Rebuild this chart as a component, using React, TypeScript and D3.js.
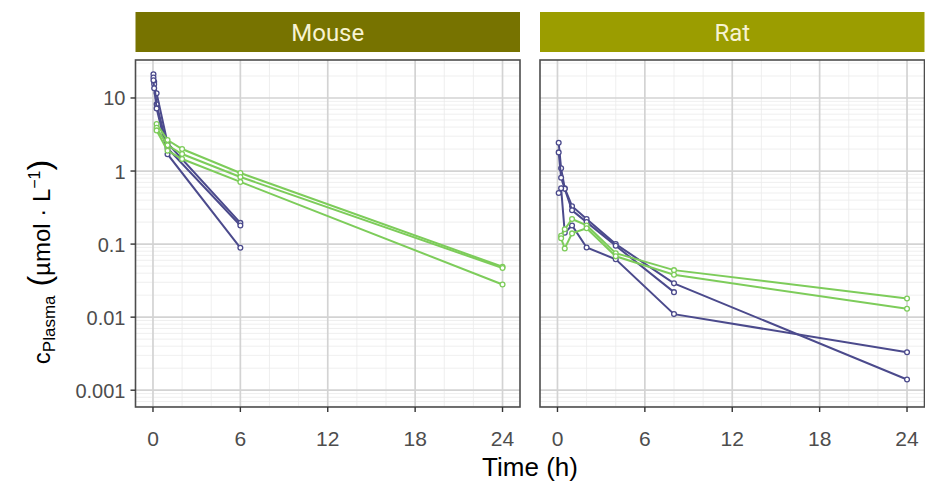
import React from 'react'
import * as d3 from 'd3'

// facets
const panels = ['Mouse', 'Rat']
const stripColors = ['#777300', '#9b9d00']

// mouse, iv (purple)
const mouseIvTime = [0.033, 0.083, 0.25, 1, 6]
const mouseIv1 = [21.1, 16.7, 11.6, 2.4, 0.195]
const mouseIv2 = [19.0, 15.4, 8.2, 2.05, 0.18]
const mouseIv3 = [17.5, 13.6, 7.2, 1.7, 0.089]

// mouse, po (green)
const mousePoTime = [0.25, 1, 2, 6, 24]
const mousePo1 = [4.4, 2.65, 2.0, 0.94, 0.049]
const mousePo2 = [3.9, 2.25, 1.71, 0.83, 0.047]
const mousePo3 = [3.6, 1.9, 1.46, 0.71, 0.028]

// rat, iv (purple)
const ratIvTime = [0.083, 0.25, 0.5, 1, 2, 4, 8, 24]
const ratIv1 = [2.44, 1.09, 0.58, 0.33, 0.22, 0.1, 0.029, 0.0014]
const ratIv2 = [1.8, 0.81, 0.57, 0.29, 0.2, 0.095, 0.022, null]
const ratIv3 = [0.5, 0.58, 0.143, 0.18, 0.09, 0.062, 0.011, 0.0033]

// rat, po (green)
const ratPoTime = [0.25, 0.5, 1, 2, 4, 8, 24]
const ratPo1 = [0.13, 0.16, 0.22, 0.18, 0.075, 0.044, 0.018]
const ratPo2 = [0.12, 0.087, 0.14, 0.165, 0.068, 0.038, 0.013]

const xTicks = [0, 6, 12, 18, 24]
const xMinor = [2, 4, 8, 10, 14, 16, 20, 22]
const yTicks = [0.001, 0.01, 0.1, 1, 10]
const yTickLabels = ['0.001', '0.01', '0.1', '1', '10']

const IV = '#4b4a8c'
const PO = '#7dcc5a'

type Series = { time: number[]; values: (number | null)[]; color: string }

const panelSeries: Series[][] = [
  [
    { time: mouseIvTime, values: mouseIv1, color: IV },
    { time: mouseIvTime, values: mouseIv2, color: IV },
    { time: mouseIvTime, values: mouseIv3, color: IV },
    { time: mousePoTime, values: mousePo1, color: PO },
    { time: mousePoTime, values: mousePo2, color: PO },
    { time: mousePoTime, values: mousePo3, color: PO },
  ],
  [
    { time: ratIvTime, values: ratIv1, color: IV },
    { time: ratIvTime, values: ratIv2, color: IV },
    { time: ratIvTime, values: ratIv3, color: IV },
    { time: ratPoTime, values: ratPo1, color: PO },
    { time: ratPoTime, values: ratPo2, color: PO },
  ],
]

const W = 925
const H = 485
const panelW = 384.5
const panelX = [135.5, 540]
const top = 60
const bottom = 407
const font = "'Liberation Sans', Arial, sans-serif"

export default function App() {
  const y = d3.scaleLog().domain([Math.pow(10, -3.23), Math.pow(10, 1.52)]).range([bottom, top])
  const yMinor: number[] = []
  for (let e = -4; e <= 1; e++) {
    for (let m = 2; m <= 9; m++) {
      const v = m * Math.pow(10, e)
      if (y(v) > top && y(v) < bottom) yMinor.push(v)
    }
  }

  return (
    <svg width={W} height={H} style={{ position: 'absolute', left: 0, top: 0, background: '#fff' }}>
      {panels.map((name, pi) => {
        const x0 = panelX[pi]
        const x = d3.scaleLinear().domain([-1.2, 25.2]).range([x0, x0 + panelW])
        const line = d3
          .line<[number, number | null]>()
          .defined(d => d[1] != null)
          .x(d => x(d[0]))
          .y(d => y(d[1] as number))
        return (
          <g key={name}>
            <rect x={x0} y={12} width={panelW} height={40} fill={stripColors[pi]} />
            <text
              x={x0 + panelW / 2}
              y={41}
              textAnchor="middle"
              fill="#f7f3d2"
              fontFamily="Roboto, sans-serif"
              fontSize={24}
            >
              {name}
            </text>
            <rect x={x0} y={top} width={panelW} height={bottom - top} fill="#fff" />
            {yMinor.map(v => (
              <line key={'ym' + v} x1={x0} x2={x0 + panelW} y1={y(v)} y2={y(v)} stroke="#ebebeb" strokeWidth={0.8} />
            ))}
            {xMinor.map(t => (
              <line key={'xm' + t} x1={x(t)} x2={x(t)} y1={top} y2={bottom} stroke="#ebebeb" strokeWidth={0.8} />
            ))}
            {yTicks.map(v => (
              <line key={'y' + v} x1={x0} x2={x0 + panelW} y1={y(v)} y2={y(v)} stroke="#d3d3d3" strokeWidth={1.7} />
            ))}
            {xTicks.map(t => (
              <line key={'x' + t} x1={x(t)} x2={x(t)} y1={top} y2={bottom} stroke="#d3d3d3" strokeWidth={1.7} />
            ))}
            {panelSeries[pi].map((s, si) => {
              const pts = s.time.map((t, i) => [t, s.values[i]] as [number, number | null])
              return (
                <g key={si}>
                  <path d={line(pts) || ''} fill="none" stroke={s.color} strokeWidth={2} />
                  {pts
                    .filter(p => p[1] != null)
                    .map((p, i) => (
                      <circle key={i} cx={x(p[0])} cy={y(p[1] as number)} r={2.4} fill="#fff" stroke={s.color} strokeWidth={1.3} />
                    ))}
                </g>
              )
            })}
            <rect x={x0} y={top} width={panelW} height={bottom - top} fill="none" stroke="#4d4d4d" strokeWidth={1.6} />
            {xTicks.map(t => (
              <g key={'xt' + t}>
                <line x1={x(t)} x2={x(t)} y1={bottom} y2={bottom + 5} stroke="#333" strokeWidth={1.4} />
                <text x={x(t)} y={446} textAnchor="middle" fontFamily={font} fontSize={21} fill="#4d4d4d">
                  {t}
                </text>
              </g>
            ))}
            {pi === 0 &&
              yTicks.map((v, i) => (
                <g key={'yt' + v}>
                  <line x1={x0 - 5} x2={x0} y1={y(v)} y2={y(v)} stroke="#333" strokeWidth={1.4} />
                  <text x={x0 - 10} y={y(v) + 7.5} textAnchor="end" fontFamily={font} fontSize={20} fill="#4d4d4d">
                    {yTickLabels[i]}
                  </text>
                </g>
              ))}
          </g>
        )
      })}
      <text x={530} y={476} textAnchor="middle" fontFamily={font} fontSize={26} fill="#000">
        Time (h)
      </text>
      <text transform="translate(50,262) rotate(-90)" textAnchor="middle" fontFamily={font} fontSize={24} fill="#000">
        c
        <tspan fontSize={17} dy={5}>Plasma</tspan>
        <tspan dy={-5} fontSize={32}> (</tspan>
        <tspan fontSize={24}>µmol · L</tspan>
        <tspan fontSize={16} dy={-10}>−1</tspan>
        <tspan fontSize={32} dy={10}>)</tspan>
      </text>
    </svg>
  )
}
